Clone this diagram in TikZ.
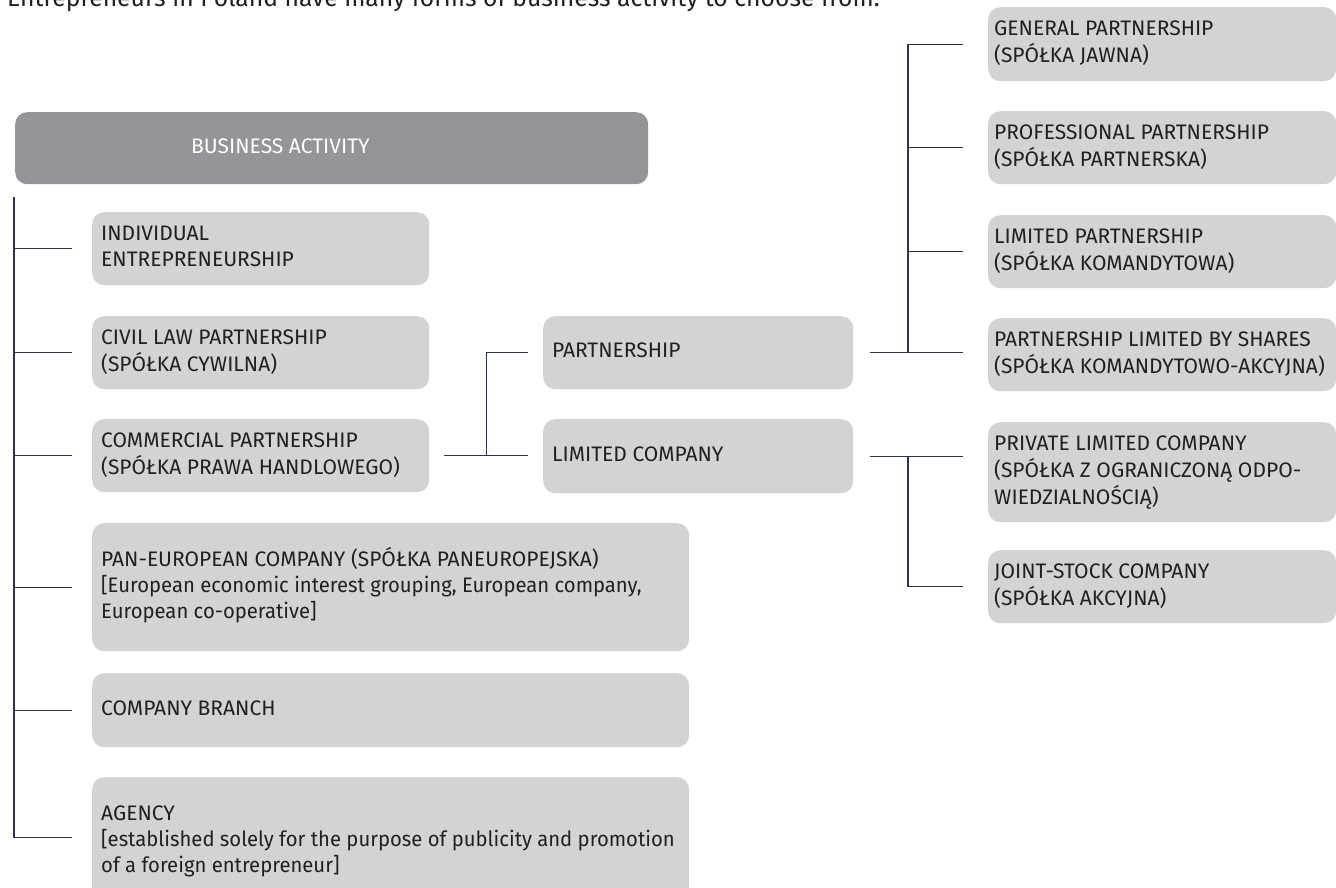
\documentclass[tikz,border=0pt]{standalone}
\usepackage{fontspec}
\setmainfont{Fira Sans}
\newfontfamily\narrowfont[FakeStretch=0.965]{Fira Sans}
\definecolor{boxgray}{HTML}{D1D3D4}
\definecolor{hdrgray}{HTML}{939598}
\definecolor{txt}{HTML}{231F20}
\definecolor{lncol}{HTML}{2B3350}
\newcommand\bt[2]{\makebox[#1][l]{\begin{tabular}{@{}l@{}}#2\end{tabular}}}
\begin{document}
\begin{tikzpicture}[x=1pt,y=-1pt,
  box/.style={rectangle, rounded corners=12pt, fill=boxgray, text=txt, anchor=north west,
    inner xsep=9pt, inner ysep=0pt, font=\fontsize{21}{26}\selectfont},
  rbox/.style={box, inner xsep=6pt, minimum width=348pt},
  conn/.style={draw=lncol, line width=1.3pt}]
\useasboundingbox (0,0) rectangle (1336,888);
\node[anchor=base west, text=txt, font=\fontsize{24.7}{28}\selectfont, inner sep=0pt] (title) at (7,7)
  {Entrepreneurs in Poland have many forms of business activity to choose from.};

\node[box, fill=hdrgray, text=white, minimum width=633pt, minimum height=72pt] (ba) at (15,112)
  {\bt{615pt}{\hspace*{167pt}BUSINESS ACTIVITY}};

\node[box, minimum width=337pt, minimum height=73pt] (ind) at (92,212) {\bt{319pt}{INDIVIDUAL\\ENTREPRENEURSHIP}};
\node[box, minimum width=337pt, minimum height=73pt] (civ) at (92,316) {\bt{319pt}{CIVIL LAW PARTNERSHIP\\(SPÓŁKA CYWILNA)}};
\node[box, minimum width=337pt, minimum height=73pt] (com) at (92,419) {\bt{319pt}{COMMERCIAL PARTNERSHIP\\(SPÓŁKA PRAWA HANDLOWEGO)}};

\node[box, minimum width=310pt, minimum height=73pt] (par) at (543,316) {\bt{292pt}{PARTNERSHIP}};
\node[box, minimum width=310pt, minimum height=74pt] (lim) at (543,419) {\bt{292pt}{LIMITED COMPANY}};

\node[box, minimum width=597pt, minimum height=128pt] (pan) at (92,523)
  {\bt{579pt}{PAN-EUROPEAN COMPANY (SPÓŁKA PANEUROPEJSKA)\\{\narrowfont[European economic interest grouping, European company,}\\{\narrowfont European co-operative]}}};
\node[box, minimum width=597pt, minimum height=74pt] (bra) at (92,673) {\bt{579pt}{COMPANY BRANCH}};
\node[box, minimum width=597pt, minimum height=128pt] (age) at (92,777)
  {\bt{579pt}{AGENCY\\{\narrowfont[established solely for the purpose of publicity and promotion}\\{\narrowfont of a foreign entrepreneur]}}};

\node[rbox, minimum height=74pt] (gen) at (988,7) {\bt{336pt}{GENERAL PARTNERSHIP\\(SPÓŁKA JAWNA)}};
\node[rbox, minimum height=73pt] (pro) at (988,111) {\bt{336pt}{PROFESSIONAL PARTNERSHIP\\(SPÓŁKA PARTNERSKA)}};
\node[rbox, minimum height=73pt] (lpa) at (988,215) {\bt{336pt}{LIMITED PARTNERSHIP\\(SPÓŁKA KOMANDYTOWA)}};
\node[rbox, minimum height=73pt] (pls) at (988,318) {\bt{336pt}{PARTNERSHIP LIMITED BY SHARES\\(SPÓŁKA KOMANDYTOWO-AKCYJNA)}};
\node[rbox, minimum height=100pt] (pri) at (988,422) {\bt{336pt}{PRIVATE LIMITED COMPANY\\(SPÓŁKA Z OGRANICZONĄ ODPO-\\WIEDZIALNOŚCIĄ)}};
\node[rbox, minimum height=73pt] (joi) at (988,550) {\bt{336pt}{JOINT-STOCK COMPANY\\(SPÓŁKA AKCYJNA)}};

% left spine
\coordinate (ls) at ([xshift=-1pt,yshift=-13pt]ba.south west);
\draw[conn] (ls) |- ([xshift=-20pt,yshift=4pt]age.west);
\foreach \n in {ind,civ,com,pan,bra}
  \draw[conn] (ls |- \n.west) -- ([xshift=-20pt]\n.west);

% commercial -> partnership / limited company
\coordinate (mj) at ([xshift=57pt]com.east);
\draw[conn] ([xshift=15pt]com.east) -- ([xshift=-15pt]lim.west |- com.east);
\draw[conn] (mj |- com.east) |- ([xshift=-15pt]par.west);

% right spines
\coordinate (rsx) at ([xshift=-80pt]gen.west);
\coordinate (rex) at ([xshift=-25pt]gen.west);
\draw[conn] ([xshift=17pt]par.east) -- (rex |- par.east);
\draw[conn] ([xshift=17pt]lim.east) -- (rex |- lim.east);
\draw[conn] (rsx |- gen.west) -- (rsx |- par.east);
\foreach \n in {gen,pro,lpa}
  \draw[conn] (rsx |- \n.west) -- (rex |- \n.west);
\draw[conn] (rsx |- lim.east) -- (rsx |- joi.west) -- (rex |- joi.west);
\end{tikzpicture}
\end{document}
